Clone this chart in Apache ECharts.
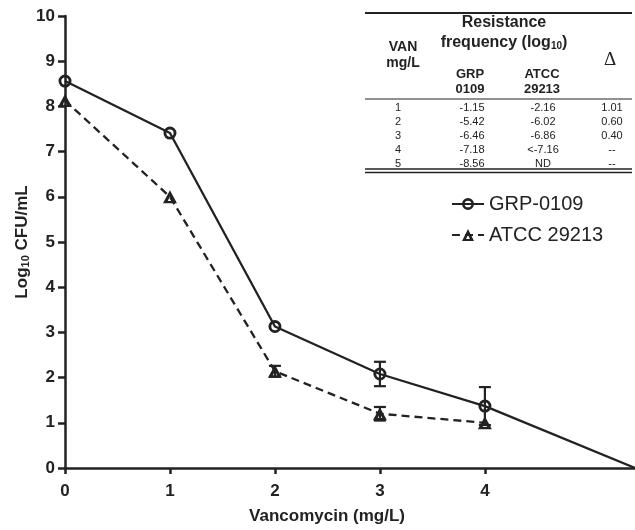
<!DOCTYPE html>
<html><head><meta charset="utf-8">
<script src="https://cdn.jsdelivr.net/npm/echarts@6/dist/echarts.min.js"></script>
<style>html,body{margin:0;padding:0;background:#fff}#c{width:635px;height:530px}</style>
</head><body><div id="c"></div>
<script>
var vanX = [0, 1, 2, 3, 4];
var grpValues = [8.56, 7.41, 3.13, 2.08, 1.37];
var grpErr = [0, 0, 0, 0.27, 0.42];
var grpTail = [5.43, 0];
var atccValues = [8.13, 6.0, 2.14, 1.2, 1.0];
var atccErr = [0, 0, 0.12, 0.15, 0];
var xTicks = [0, 1, 2, 3, 4];
var tblVan = ['1', '2', '3', '4', '5'];
var tblGrp = ['-1.15', '-5.42', '-6.46', '-7.18', '-8.56'];
var tblAtcc = ['-2.16', '-6.02', '-6.86', '<-7.16', 'ND'];
var tblDelta = ['1.01', '0.60', '0.40', '--', '--'];

var INK = '#222';
var FONT = 'Liberation Sans, Arial, sans-serif';
var RING = 'path://M0,-10 A10,10 0 1,1 0,10 A10,10 0 1,1 0,-10 Z M0,-5.6 A5.6,5.6 0 1,0 0,5.6 A5.6,5.6 0 1,0 0,-5.6 Z';
var TRI = 'path://M0,0 L10,17 L-10,17 Z M0,8 L-3.2,14 L3.2,14 Z';

var grpData = vanX.map(function (x, i) { return [x, grpValues[i]]; });
grpData.push({ value: grpTail, symbol: 'none' });
var atccData = vanX.map(function (x, i) { return [x, atccValues[i]]; });

function errData(vals, errs) {
  var out = [];
  vanX.forEach(function (x, i) { if (errs[i] > 0) out.push([x, vals[i] - errs[i], vals[i] + errs[i]]); });
  return out;
}
function errRender(params, api) {
  var lo = api.coord([api.value(0), api.value(1)]);
  var hi = api.coord([api.value(0), api.value(2)]);
  var w = 6;
  var st = { stroke: INK, lineWidth: 2.2 };
  return { type: 'group', children: [
    { type: 'line', shape: { x1: lo[0], y1: lo[1], x2: hi[0], y2: hi[1] }, style: st },
    { type: 'line', shape: { x1: hi[0] - w, y1: hi[1], x2: hi[0] + w, y2: hi[1] }, style: st },
    { type: 'line', shape: { x1: lo[0] - w, y1: lo[1], x2: lo[0] + w, y2: lo[1] }, style: st }
  ]};
}

var g = [];
function txt(x, y, s, size, bold, fam) {
  g.push({ type: 'text', x: x, y: y, z: 100, style: { text: s, x: 0, y: 0, fill: INK,
    font: (bold ? 'bold ' : '') + size + 'px ' + (fam || FONT), textAlign: 'center', textVerticalAlign: 'middle' } });
}
function hline(y, w) {
  g.push({ type: 'line', z: 100, shape: { x1: 365, y1: y, x2: 632, y2: y }, style: { stroke: INK, lineWidth: w } });
}
hline(13, 2);
hline(99, 1.2);
hline(169, 1.5);
hline(172.5, 1.5);
g.push({ type: 'text', x: 504, y: 23, z: 100, style: { text: 'Resistance', fill: INK, font: 'bold 16px ' + FONT, textAlign: 'center', textVerticalAlign: 'middle' } });
g.push({ type: 'text', x: 504, y: 43, z: 100, style: {
  text: '{a|frequency (log}{s|10}{a|)}', textAlign: 'center', textVerticalAlign: 'middle',
  rich: { a: { fill: INK, font: 'bold 16px ' + FONT }, s: { fill: INK, font: 'bold 10px ' + FONT, padding: [7, 0, 0, 0] } } } });
txt(403, 47, 'VAN', 14, true);
txt(403, 63, 'mg/L', 14, true);
txt(470, 74, 'GRP', 13, true);
txt(470, 89, '0109', 13, true);
txt(542, 74, 'ATCC', 13, true);
txt(542, 89, '29213', 13, true);
txt(610, 60, '\u0394', 19, false, 'Liberation Serif, serif');
var rowY0 = 108, rowStep = 14;
tblVan.forEach(function (v, i) {
  var y = rowY0 + i * rowStep;
  txt(398, y, v, 11, false);
  txt(472, y, tblGrp[i], 11, false);
  txt(543, y, tblAtcc[i], 11, false);
  txt(612, y, tblDelta[i], 11, false);
});

var chart = echarts.init(document.getElementById('c'), null, { renderer: 'canvas' });
chart.setOption({
  animation: false,
  backgroundColor: '#fff',
  textStyle: { fontFamily: FONT, color: INK },
  grid: { left: 65, right: 0, top: 16, bottom: 62, containLabel: false },
  legend: {
    left: 446, top: 189, orient: 'vertical', itemGap: 11, itemWidth: 32, itemHeight: 15,
    textStyle: { fontSize: 20, color: INK, fontFamily: FONT },
    data: ['GRP-0109', 'ATCC 29213']
  },
  xAxis: {
    type: 'value', min: 0, max: 5.43, interval: 1,
    name: 'Vancomycin (mg/L)', nameLocation: 'middle', nameGap: 40, nameMoveOverlap: false,
    nameTextStyle: { fontSize: 17, fontWeight: 'bold', color: INK, padding: [0, 46, 0, 0] },
    axisLine: { onZero: false, lineStyle: { color: INK, width: 2.5 } },
    axisTick: { show: true, length: 6, lineStyle: { color: INK, width: 2.5 }, customValues: xTicks },
    axisLabel: { fontSize: 17, fontWeight: 'bold', color: INK, margin: 15, customValues: xTicks },
    splitLine: { show: false }
  },
  yAxis: {
    type: 'value', min: 0, max: 10, interval: 1,
    name: '{a|Log}{s|10}{a| CFU/mL}', nameLocation: 'middle', nameGap: 34, nameRotate: 90, nameMoveOverlap: false,
    nameTextStyle: { rich: { a: { fontSize: 17, fontWeight: 'bold', color: INK }, s: { fontSize: 11, fontWeight: 'bold', color: INK, padding: [7, 0, 0, 0] } } },
    axisLine: { show: true, lineStyle: { color: INK, width: 2.5 } },
    axisTick: { show: true, length: 7, lineStyle: { color: INK, width: 2.5 } },
    axisLabel: { fontSize: 17, fontWeight: 'bold', color: INK, margin: 10 },
    splitLine: { show: false }
  },
  graphic: g,
  series: [
    { name: 'GRP-0109', type: 'line', data: grpData, symbol: RING, symbolSize: 13,
      lineStyle: { color: INK, width: 2.3 }, itemStyle: { color: INK, borderWidth: 0 }, z: 5 },
    { name: 'ATCC 29213', type: 'line', data: atccData, symbol: TRI, symbolSize: [14, 13],
      lineStyle: { color: INK, width: 2.3, type: [8, 5] }, itemStyle: { color: INK, borderWidth: 0 }, z: 4 },
    { type: 'custom', renderItem: errRender, data: errData(grpValues, grpErr), z: 3, silent: true },
    { type: 'custom', renderItem: errRender, data: errData(atccValues, atccErr), z: 3, silent: true }
  ]
});
</script></body></html>
